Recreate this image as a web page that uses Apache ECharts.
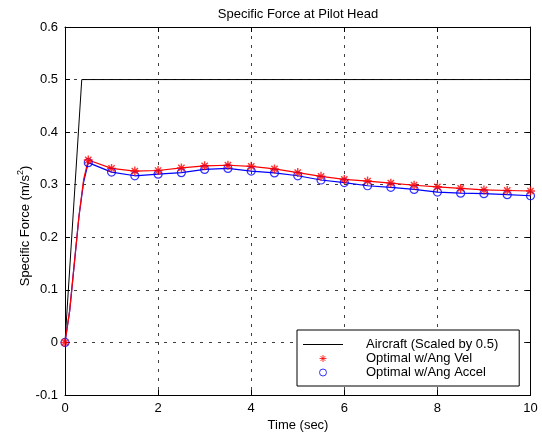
<!DOCTYPE html>
<html>
<head>
<meta charset="utf-8">
<script src="https://cdn.jsdelivr.net/npm/echarts@6/dist/echarts.min.js"></script>
<style>
html,body{margin:0;padding:0;background:#fff;}
#chart{width:542px;height:436px;}
</style>
</head>
<body>
<div id="chart"></div>
<script>
// ---- data ----
const titleText = 'Specific Force at Pilot Head';
const xLabel = 'Time (sec)';
const seriesNames = ['Aircraft (Scaled by 0.5)', 'Optimal w/Ang Vel', 'Optimal w/Ang Accel'];

// aircraft response (scaled)
const aircraftTime = [0, 0.03, 0.36, 10];
const aircraftVals = [0, 0, 0.5, 0.5];

// marker samples every 0.5 s
const sampleTime = [0, 0.5, 1, 1.5, 2, 2.5, 3, 3.5, 4, 4.5, 5, 5.5, 6, 6.5, 7, 7.5, 8, 8.5, 9, 9.5, 10];
const angVelVals = [0, 0.347, 0.331, 0.326, 0.327, 0.332, 0.336, 0.337, 0.335, 0.330, 0.323, 0.316, 0.310, 0.307, 0.303, 0.299, 0.296, 0.293, 0.290, 0.289, 0.288];
const angAccVals = [0, 0.342, 0.324, 0.317, 0.320, 0.323, 0.329, 0.331, 0.326, 0.3225, 0.317, 0.309, 0.304, 0.298, 0.295, 0.291, 0.286, 0.284, 0.283, 0.281, 0.279];

// initial rise (between first two samples)
const riseTime = [0.1, 0.2, 0.3, 0.4];
const angVelRise = [0.06, 0.15, 0.24, 0.31];
const angAccRise = [0.06, 0.15, 0.24, 0.305];

const xTicks = {min: 0, max: 10, interval: 2};
const yTicks = {min: -0.1, max: 0.6, interval: 0.1};

// ---- build ----
function zip(a, b) { return a.map((v, i) => [v, b[i]]); }
function mergeLine(t, v, rt, rv) {
  const pts = zip(t, v).concat(zip(rt, rv));
  pts.sort((p, q) => p[0] - q[0]);
  return pts;
}

const FONT = 'Liberation Sans, Arial, Helvetica, sans-serif';
const gridStyle = {show: true, lineStyle: {color: '#000', width: 1, type: [3, 6], opacity: 0.75}};
const axisLineStyle = {show: true, onZero: false, lineStyle: {color: '#000', width: 1}};
const tickStyle = {show: true, inside: true, length: 5, lineStyle: {color: '#000', width: 1}};

const starPath = 'path://M0,-10L0,10M-10,0L10,0M-7,-7L7,7M-7,7L7,-7';

const chart = echarts.init(document.getElementById('chart'), null, {renderer: 'canvas'});
chart.setOption({
  animation: false,
  backgroundColor: '#fff',
  textStyle: {fontFamily: FONT},
  grid: {left: 65, right: 11.5, top: 27, bottom: 41, containLabel: false},
  xAxis: [
    {type: 'value', position: 'bottom', min: xTicks.min, max: xTicks.max, interval: xTicks.interval,
     axisLine: axisLineStyle, axisTick: tickStyle, splitLine: gridStyle,
     axisLabel: {color: '#000', fontSize: 13, margin: 7, fontFamily: FONT}},
    {type: 'value', position: 'top', min: xTicks.min, max: xTicks.max, interval: xTicks.interval,
     axisLine: axisLineStyle, axisTick: tickStyle, splitLine: {show: false}, axisLabel: {show: false}}
  ],
  yAxis: [
    {type: 'value', position: 'left', min: yTicks.min, max: yTicks.max, interval: yTicks.interval,
     axisLine: axisLineStyle, axisTick: tickStyle, splitLine: gridStyle,
     axisLabel: {color: '#000', fontSize: 13, margin: 7, fontFamily: FONT,
                 formatter: v => String(+v.toFixed(1))}},
    {type: 'value', position: 'right', min: yTicks.min, max: yTicks.max, interval: yTicks.interval,
     axisLine: axisLineStyle, axisTick: tickStyle, splitLine: {show: false}, axisLabel: {show: false}}
  ],
  legend: {
    left: 297, top: 330, orient: 'vertical',
    backgroundColor: '#fff', borderColor: '#000', borderWidth: 1, borderRadius: 0,
    padding: [8, 21, 7, 6], itemGap: 1, itemWidth: 40, itemHeight: 7,
    textStyle: {color: '#000', fontSize: 13, lineHeight: 13, fontFamily: FONT, padding: [0, 0, 0, 18]},
    data: [
      {name: seriesNames[0], icon: 'path://M0,0L40,0L40,1L0,1Z', itemStyle: {color: '#000'}},
      {name: seriesNames[1], itemStyle: {color: 'rgba(0,0,0,0)', borderColor: '#ff0000', borderWidth: 1}},
      {name: seriesNames[2], itemStyle: {color: 'rgba(0,0,0,0)', borderColor: '#0000ff', borderWidth: 1}}
    ]
  },
  graphic: [
    {type: 'text', x: 298, y: 14,
     style: {text: titleText, fill: '#000', font: '13px ' + FONT, align: 'center', verticalAlign: 'middle'}},
    {type: 'text', x: 298, y: 425,
     style: {text: xLabel, fill: '#000', font: '13px ' + FONT, align: 'center', verticalAlign: 'middle'}},
    {type: 'text', x: 25, y: 226, rotation: Math.PI / 2,
     style: {text: 'Specific Force (m/s{sup|2})', fill: '#000', font: '13px ' + FONT,
             align: 'center', verticalAlign: 'middle',
             rich: {sup: {fontSize: 9, verticalAlign: 'top', padding: [0, 0, 8, 0], fill: '#000', fontFamily: FONT}}}}
  ],
  series: [
    {name: seriesNames[0], type: 'line', data: zip(aircraftTime, aircraftVals),
     showSymbol: false, symbol: 'none', lineStyle: {color: '#000', width: 1}, itemStyle: {color: '#000'}, z: 3},
    {type: 'line', data: mergeLine(sampleTime, angAccVals, riseTime, angAccRise),
     showSymbol: false, symbol: 'none', lineStyle: {color: '#0000ff', width: 1.2}, z: 4},
    {type: 'line', data: mergeLine(sampleTime, angVelVals, riseTime, angVelRise),
     showSymbol: false, symbol: 'none', lineStyle: {color: '#ff0000', width: 1.2}, z: 4},
    {name: seriesNames[2], type: 'scatter', data: zip(sampleTime, angAccVals),
     symbol: 'circle', symbolSize: 8,
     itemStyle: {color: 'rgba(0,0,0,0)', borderColor: '#0000ff', borderWidth: 1.2}, z: 5},
    {name: seriesNames[1], type: 'scatter', data: zip(sampleTime, angVelVals),
     symbol: starPath, symbolSize: 9,
     itemStyle: {color: 'rgba(0,0,0,0)', borderColor: '#ff0000', borderWidth: 1.4}, z: 6}
  ]
});
</script>
</body>
</html>
